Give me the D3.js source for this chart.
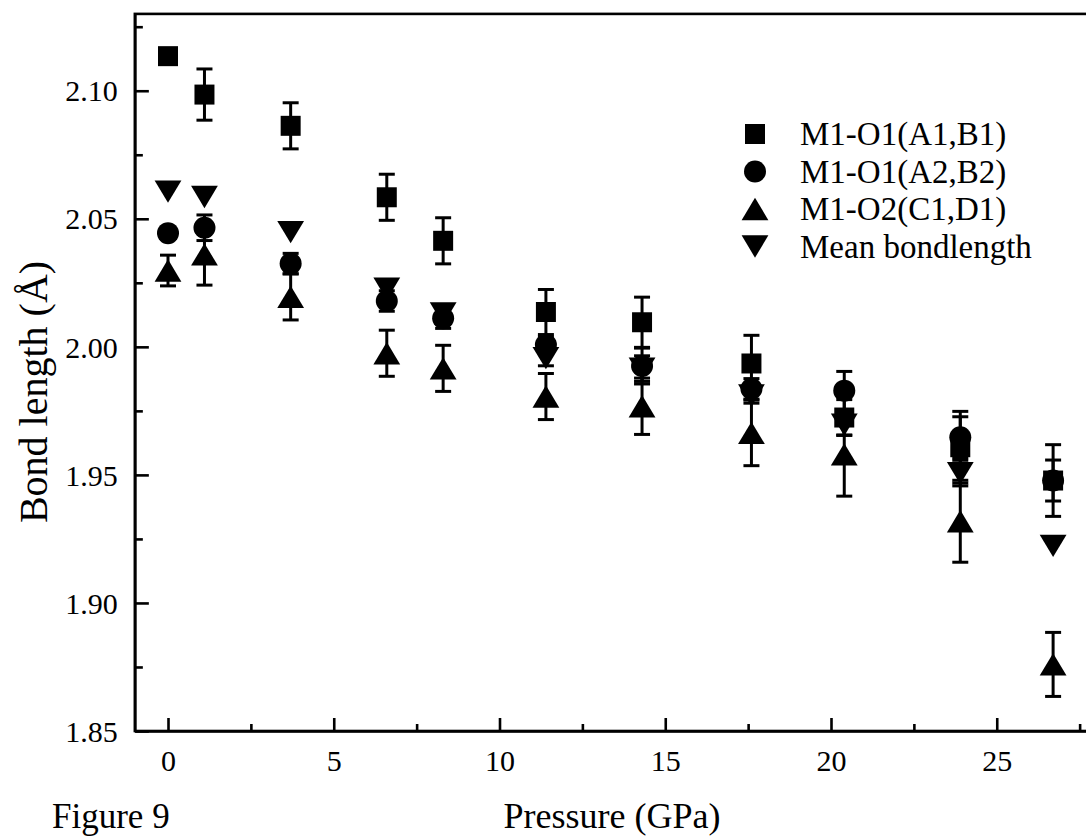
<!DOCTYPE html>
<html>
<head>
<meta charset="utf-8">
<script src="https://cdn.jsdelivr.net/npm/d3@7"></script>
<style>
  html, body { margin: 0; padding: 0; background: #fff; }
  svg { display: block; }
  text { font-family: "Liberation Serif", "Times New Roman", serif; fill: #000; }
</style>
</head>
<body>
<svg id="chart" width="1086" height="838"></svg>
<script>
// ---- data ----
const pressure = [0, 1.1, 3.7, 6.6, 8.3, 11.4, 14.3, 17.6, 20.4, 23.9, 26.7];
const m1o1_a1b1 = [2.1135, 2.0985, 2.0863, 2.0584, 2.0414, 2.0136, 2.0096, 1.9935, 1.9724, 1.9608, 1.9478];
const m1o1_a1b1_err = [0.001, 0.010, 0.009, 0.009, 0.009, 0.0088, 0.0098, 0.011, 0.007, 0.014, 0.014];
const m1o1_a2b2 = [2.0444, 2.0465, 2.0325, 2.0179, 2.0112, 2.0008, 1.9925, 1.9836, 1.9829, 1.9647, 1.9478];
const m1o1_a2b2_err = [0, 0.005, 0.004, 0.004, 0.004, 0.003, 0.007, 0.004, 0.0075, 0.008, 0.008];
const m1o2_c1d1 = [2.0298, 2.0361, 2.0195, 1.9975, 1.9916, 1.9806, 1.9768, 1.9664, 1.958, 1.9319, 1.876];
const m1o2_c1d1_err = [0.006, 0.012, 0.009, 0.009, 0.009, 0.009, 0.011, 0.0128, 0.0163, 0.016, 0.0125];
const meanBond = [2.0606, 2.0585, 2.0448, 2.0227, 2.013, 1.9956, 1.9915, 1.981, 1.9696, 1.9507, 1.9223];
const meanBond_err = [0, 0, 0, 0.003, 0.003, 0.003, 0.005, 0.003, 0.004, 0.005, 0];

const seriesNames = ["M1-O1(A1,B1)", "M1-O1(A2,B2)", "M1-O2(C1,D1)", "Mean bondlength"];
const seriesShapes = ["square", "circle", "triUp", "triDown"];
const xMajorTicks = [0, 5, 10, 15, 20, 25];
const xMinorTicks = [2.5, 7.5, 12.5, 17.5, 22.5, 27.5];
const yMajorTicks = [1.85, 1.90, 1.95, 2.00, 2.05, 2.10];
const yMinorTicks = [1.875, 1.925, 1.975, 2.025, 2.075, 2.125];
const xTitle = "Pressure (GPa)";
const yTitle = "Bond length (Å)";
const figLabel = "Figure 9";

const series = [
  { name: seriesNames[0], shape: seriesShapes[0], y: m1o1_a1b1, e: m1o1_a1b1_err },
  { name: seriesNames[1], shape: seriesShapes[1], y: m1o1_a2b2, e: m1o1_a2b2_err },
  { name: seriesNames[2], shape: seriesShapes[2], y: m1o2_c1d1, e: m1o2_c1d1_err },
  { name: seriesNames[3], shape: seriesShapes[3], y: meanBond, e: meanBond_err }
];

// ---- layout ----
const svg = d3.select("#chart");
svg.append("rect").attr("width", 1086).attr("height", 838).attr("fill", "#fff");

const x = d3.scaleLinear().domain([-1, 28]).range([134.85, 1096.2]);
const y = d3.scaleLinear().domain([1.85, 2.13]).range([731, 13.9]);

const AX_W = 2.6;

// frame
svg.append("rect")
  .attr("x", x(-1)).attr("y", y(2.13))
  .attr("width", x(28) - x(-1)).attr("height", y(1.85) - y(2.13))
  .attr("fill", "none").attr("stroke", "#000").attr("stroke-width", AX_W);

// x axis (ticks inward)
const xAxis = d3.axisBottom(x).tickValues(xMajorTicks).tickSizeInner(-13).tickSizeOuter(0)
  .tickFormat(d3.format("d")).tickPadding(0);
const gx = svg.append("g").attr("transform", `translate(0,${y(1.85)})`).call(xAxis);
gx.select(".domain").attr("stroke-width", AX_W);
gx.selectAll(".tick line").attr("stroke-width", AX_W);
gx.selectAll(".tick text").attr("font-size", 30).attr("dy", null).attr("y", 40)
  .style("font-family", '"Liberation Serif", serif');
const xAxisMinor = d3.axisBottom(x).tickValues(xMinorTicks).tickSizeInner(-7).tickSizeOuter(0).tickFormat("");
const gxm = svg.append("g").attr("transform", `translate(0,${y(1.85)})`).call(xAxisMinor);
gxm.select(".domain").remove();
gxm.selectAll(".tick line").attr("stroke-width", AX_W);

// y axis (ticks inward)
const yAxis = d3.axisLeft(y).tickValues(yMajorTicks).tickSizeInner(-14).tickSizeOuter(0)
  .tickFormat(d3.format(".2f")).tickPadding(0);
const gy = svg.append("g").attr("transform", `translate(${x(-1)},0)`).call(yAxis);
gy.select(".domain").attr("stroke-width", AX_W);
gy.selectAll(".tick line").attr("stroke-width", AX_W);
gy.selectAll(".tick text").attr("font-size", 30).attr("x", -17).attr("dy", "0.34em")
  .style("font-family", '"Liberation Serif", serif');
const yAxisMinor = d3.axisLeft(y).tickValues(yMinorTicks).tickSizeInner(-8).tickSizeOuter(0).tickFormat("");
const gym = svg.append("g").attr("transform", `translate(${x(-1)},0)`).call(yAxisMinor);
gym.select(".domain").remove();
gym.selectAll(".tick line").attr("stroke-width", AX_W);

// ---- marker paths ----
function markerPath(shape) {
  switch (shape) {
    case "square": return "M-10,-10H10V10H-10Z";
    case "circle": return "M11,0A11,11 0 1,1 -11,0A11,11 0 1,1 11,0Z";
    case "triUp": return "M0,-11.2L13.4,11.2L-13.4,11.2Z";
    case "triDown": return "M0,11.2L13.4,-11.2L-13.4,-11.2Z";
  }
}

const plot = svg.append("g");

// error bars
series.forEach(s => {
  const g = plot.append("g");
  pressure.forEach((p, i) => {
    const err = s.e[i];
    if (!err) return;
    const cx = x(p), y0 = y(s.y[i] - err), y1 = y(s.y[i] + err);
    g.append("line").attr("x1", cx).attr("x2", cx).attr("y1", y0).attr("y2", y1)
      .attr("stroke", "#000").attr("stroke-width", 3);
    [y0, y1].forEach(yy => g.append("line").attr("x1", cx - 8).attr("x2", cx + 8)
      .attr("y1", yy).attr("y2", yy).attr("stroke", "#000").attr("stroke-width", 3));
  });
});

// markers
series.forEach(s => {
  plot.append("g").selectAll("path").data(pressure).join("path")
    .attr("d", markerPath(s.shape))
    .attr("transform", (p, i) => `translate(${x(p)},${y(s.y[i])})`)
    .attr("fill", "#000");
});

// ---- legend ----
const legendRows = [134, 171.5, 209, 246.5];
const leg = svg.append("g");
series.forEach((s, i) => {
  leg.append("path").attr("d", markerPath(s.shape))
    .attr("transform", `translate(755,${legendRows[i]})`).attr("fill", "#000");
  leg.append("text").attr("x", 800).attr("y", legendRows[i] + 11)
    .attr("font-size", 33).text(s.name);
});

// ---- titles ----
svg.append("text").attr("x", 612).attr("y", 828).attr("text-anchor", "middle")
  .attr("font-size", 36).text(xTitle);
svg.append("text").attr("transform", "translate(47,392) rotate(-90)")
  .attr("text-anchor", "middle").attr("font-size", 40).text(yTitle);
svg.append("text").attr("x", 52).attr("y", 828).attr("font-size", 35).text(figLabel);
</script>
</body>
</html>
